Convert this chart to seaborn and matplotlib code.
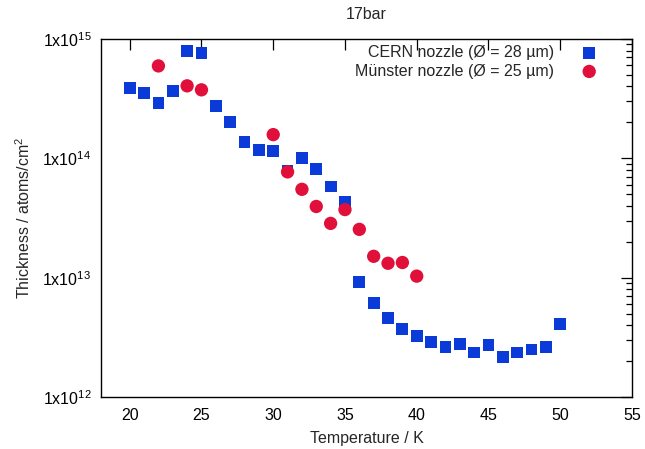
import numpy as np
import pandas as pd
import matplotlib
matplotlib.use("Agg")
import matplotlib.pyplot as plt
import seaborn as sns
from matplotlib.ticker import LogLocator, FixedLocator, FuncFormatter, NullFormatter

# Data
cern_T = [20, 21, 22, 23, 24, 25, 26, 27, 28, 29, 30, 31, 32, 33, 34, 35,
          36, 37, 38, 39, 40, 41, 42, 43, 44, 45, 46, 47, 48, 49, 50]
cern_thk = [3.9e14, 3.55e14, 2.92e14, 3.68e14, 7.9e14, 7.6e14, 2.75e14, 2.03e14,
            1.38e14, 1.18e14, 1.16e14, 7.9e13, 1.0e14, 8.2e13, 5.8e13, 4.3e13,
            9.2e12, 6.1e12, 4.6e12, 3.7e12, 3.24e12, 2.88e12, 2.62e12, 2.76e12,
            2.36e12, 2.72e12, 2.16e12, 2.36e12, 2.5e12, 2.62e12, 4.07e12]
mun_T = [22, 24, 25, 30, 31, 32, 33, 34, 35, 36, 37, 38, 39, 40]
mun_thk = [5.95e14, 4.05e14, 3.75e14, 1.58e14, 7.7e13, 5.5e13, 3.95e13, 2.85e13,
           3.72e13, 2.54e13, 1.51e13, 1.32e13, 1.34e13, 1.03e13]
cern_label = "CERN nozzle (Ø = 28 µm)"
mun_label = "Münster nozzle (Ø = 25 µm)"
x_ticks = [20, 25, 30, 35, 40, 45, 50, 55]
title = "17bar"

sns.set_style("white")
plt.rcParams['font.family'] = ['Liberation Sans', 'DejaVu Sans']
plt.rcParams['mathtext.fontset'] = 'custom'
plt.rcParams['mathtext.rm'] = 'Liberation Sans'
plt.rcParams['mathtext.it'] = 'Liberation Sans'
plt.rcParams['mathtext.bf'] = 'Liberation Sans'

fig = plt.figure(figsize=(6.45, 4.49), dpi=100)
ax = fig.add_axes([101/645, 1-397/449, (632-101)/645, (397-39)/449])

cern = pd.DataFrame({"T": cern_T, "thk": cern_thk})
mun = pd.DataFrame({"T": mun_T, "thk": mun_thk})

sns.scatterplot(data=cern, x="T", y="thk", marker="s", s=72, color="#0a3ad8",
                edgecolor="none", linewidth=0, label=cern_label, ax=ax, zorder=3)
sns.scatterplot(data=mun, x="T", y="thk", marker="o", s=92, color="#e0103a",
                edgecolor="none", linewidth=0, label=mun_label, ax=ax, zorder=3)

ax.set_yscale("log")
ax.set_xlim(18, 55)
ax.set_ylim(1e12, 1e15)
ax.xaxis.set_major_locator(FixedLocator(x_ticks))
ax.yaxis.set_major_locator(LogLocator(base=10, numticks=10))
ax.yaxis.set_minor_locator(LogLocator(base=10, subs=np.arange(2, 10), numticks=20))
ax.yaxis.set_minor_formatter(NullFormatter())
ax.yaxis.set_major_formatter(FuncFormatter(lambda v, p: r"1x10$^{%d}$" % int(round(np.log10(v)))))

fs = 11.5
ax.tick_params(axis="both", which="both", direction="in", top=True, right=True,
               labelsize=fs, colors="black")
ax.tick_params(which="major", length=8, width=0.9, pad=8)
ax.tick_params(axis="y", which="major", pad=7)
ax.tick_params(which="minor", length=4.5, width=0.9)
for s in ax.spines.values():
    s.set_visible(True)
    s.set_color("black")
    s.set_linewidth(1.0)

ax.set_xlabel("Temperature / K", fontsize=fs, labelpad=6)
ax.set_ylabel("Thickness / atoms/cm$^2$", fontsize=fs, labelpad=6.5)
ax.set_title(title, fontsize=fs, pad=14.5)

leg = ax.legend(loc="upper right", bbox_to_anchor=(0.969, 1.011), frameon=False,
                markerfirst=False, fontsize=fs, handletextpad=1.2,
                labelspacing=0.2, borderaxespad=0.25)
try:
    vp = leg._legend_box._children[-1]._children[0]
    vp.align = "right"
except Exception:
    pass

fig.savefig("out.png", dpi=100)
